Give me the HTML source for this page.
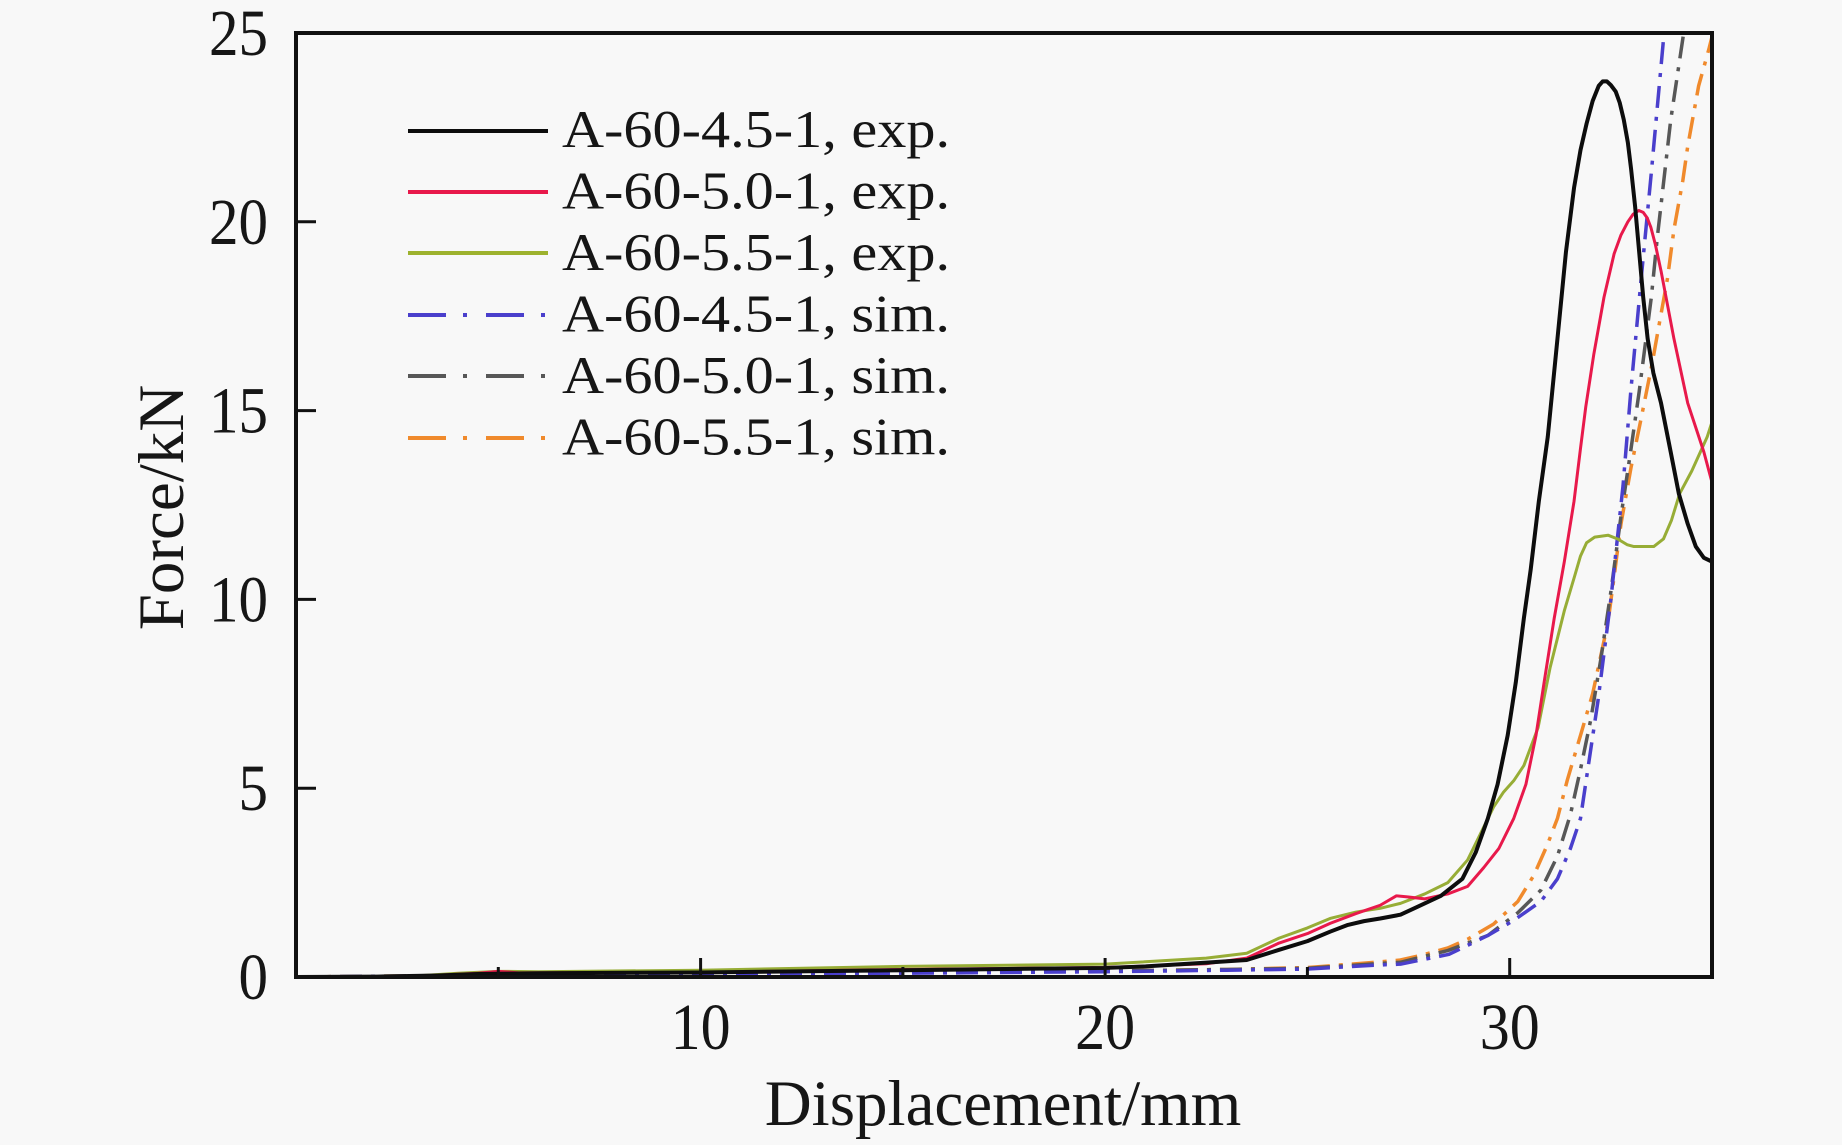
<!DOCTYPE html>
<html>
<head>
<meta charset="utf-8">
<style>
  html, body { margin: 0; padding: 0; background: #f8f8f8; }
  svg { display: block; }
  text { font-family: "Liberation Serif", "DejaVu Serif", serif; fill: #161616; }
</style>
</head>
<body>
<svg width="1842" height="1145" viewBox="0 0 1842 1145" xmlns="http://www.w3.org/2000/svg">
  <rect x="0" y="0" width="1842" height="1145" fill="#f8f8f8"/>
  <defs>
    <clipPath id="plotclip">
      <rect x="296" y="33" width="1416" height="944"/>
    </clipPath>
  </defs>

  <!-- curves -->
  <g clip-path="url(#plotclip)">
    <g transform="translate(296,977) scale(40.457,-37.76)" fill="none" stroke-linejoin="round" stroke-linecap="round">
      <!-- sim: orange 5.5 -->
      <path vector-effect="non-scaling-stroke" stroke="#f08a2c" stroke-width="3.5" stroke-dasharray="22 9 4 9" stroke-linecap="butt"
        d="M0,0 L5,0.05 L10,0.08 L15,0.12 L20,0.16 L23,0.2 L25,0.25 L26.8,0.4 L27.3,0.45 L27.8,0.57 L28.47,0.77 L28.96,1.0 L29.6,1.4 L30.2,2.0 L30.6,2.7 L30.93,3.5 L31.18,4.2 L31.42,5.2 L31.75,6.4 L32.05,7.5 L32.25,8.5 L32.43,9.4 L32.58,10.6 L32.75,12.0 L33.0,13.5 L33.25,14.8 L33.53,16.3 L33.68,17.2 L33.9,18.5 L34.06,19.8 L34.28,21.1 L34.4,22.0 L34.67,23.6 L34.93,24.6 L35,24.9"/>
      <!-- sim: gray 5.0 -->
      <path vector-effect="non-scaling-stroke" stroke="#575757" stroke-width="3.5" stroke-dasharray="22 9 4 9" stroke-linecap="butt"
        d="M0,0 L5,0.05 L10,0.08 L15,0.12 L20,0.16 L23,0.2 L25,0.23 L26.8,0.36 L27.3,0.39 L28.47,0.7 L29.46,1.1 L30.2,1.7 L30.77,2.3 L31.18,3.2 L31.5,4.3 L31.75,5.5 L32.0,6.8 L32.25,8.4 L32.5,10.2 L32.75,12.2 L33.0,14.0 L33.2,15.5 L33.5,18.0 L33.65,19.6 L33.98,22.7 L34.3,25.0 L34.35,25.5"/>
      <!-- sim: blue 4.5 -->
      <path vector-effect="non-scaling-stroke" stroke="#4a3fcc" stroke-width="3.5" stroke-dasharray="22 9 4 9" stroke-linecap="butt"
        d="M0,0 L5,0.04 L10,0.07 L15,0.1 L20,0.14 L23,0.18 L25,0.21 L26.8,0.32 L27.3,0.34 L28.5,0.6 L29.46,1.1 L30.1,1.5 L30.77,2.0 L31.18,2.6 L31.5,3.4 L31.75,4.2 L31.93,5.5 L32.18,7.3 L32.5,10.0 L32.8,13.0 L33.0,15.6 L33.25,18.5 L33.5,21.3 L33.79,24.7 L33.85,25.5"/>
      <!-- exp: green 5.5 -->
      <path vector-effect="non-scaling-stroke" stroke="#97ad36" stroke-width="3"
        d="M0,0 L2,0.01 L3,0.03 L4,0.1 L5,0.15 L6,0.14 L10,0.18 L15,0.28 L20,0.34 L22.5,0.5 L23.5,0.63 L24.3,1.03 L25,1.3 L25.56,1.55 L26.2,1.72 L26.8,1.82 L27.3,1.95 L27.9,2.2 L28.47,2.5 L28.96,3.1 L29.28,3.8 L29.6,4.5 L29.85,4.9 L30.1,5.2 L30.35,5.6 L30.7,6.6 L31.0,8.2 L31.35,9.7 L31.6,10.6 L31.75,11.15 L31.9,11.5 L32.1,11.65 L32.43,11.7 L32.67,11.6 L32.9,11.45 L33.07,11.4 L33.56,11.4 L33.8,11.6 L34.0,12.1 L34.2,12.8 L34.5,13.4 L34.88,14.3 L35,14.7"/>
      <!-- exp: red 5.0 -->
      <path vector-effect="non-scaling-stroke" stroke="#e8194b" stroke-width="3"
        d="M0,0 L2,0.01 L3,0.02 L4.5,0.1 L5,0.15 L5.5,0.11 L10,0.12 L15,0.2 L20,0.25 L22.5,0.35 L23.5,0.5 L24.3,0.9 L25,1.15 L25.56,1.42 L26.2,1.68 L26.8,1.9 L27.2,2.15 L27.5,2.12 L27.9,2.07 L28.47,2.2 L28.96,2.4 L29.36,2.9 L29.73,3.4 L30.1,4.2 L30.4,5.1 L30.65,6.4 L30.85,7.8 L31.1,9.5 L31.35,11.0 L31.59,12.6 L31.75,14.0 L31.88,15.1 L32.08,16.5 L32.33,18.0 L32.58,19.15 L32.75,19.65 L32.92,20.0 L33.05,20.2 L33.19,20.3 L33.3,20.25 L33.4,20.1 L33.49,19.85 L33.6,19.4 L33.74,18.7 L33.9,17.8 L34.06,16.9 L34.4,15.2 L34.8,13.9 L35,13.1"/>
      <!-- exp: black 4.5 -->
      <path vector-effect="non-scaling-stroke" stroke="#0d0d0d" stroke-width="4"
        d="M0,0 L2,0.01 L3.5,0.04 L4.5,0.08 L6,0.1 L10,0.12 L15,0.18 L20,0.24 L21,0.28 L22.5,0.38 L23.5,0.45 L24.3,0.72 L25,0.95 L25.56,1.2 L26,1.38 L26.4,1.48 L26.8,1.55 L27.3,1.65 L27.7,1.85 L28.3,2.15 L28.83,2.6 L29.16,3.3 L29.46,4.2 L29.7,5.1 L29.95,6.4 L30.15,7.8 L30.35,9.5 L30.52,10.8 L30.72,12.6 L30.94,14.3 L31.18,16.9 L31.39,19.2 L31.59,20.9 L31.75,21.9 L31.9,22.6 L32.05,23.2 L32.2,23.6 L32.3,23.72 L32.4,23.72 L32.5,23.62 L32.62,23.45 L32.72,23.15 L32.82,22.7 L32.92,22.1 L33.0,21.4 L33.1,20.4 L33.2,19.2 L33.3,18.0 L33.41,16.9 L33.55,16.0 L33.74,15.2 L33.98,13.9 L34.18,12.8 L34.4,12.0 L34.6,11.4 L34.8,11.1 L35,11.0"/>
    </g>
  </g>

  <!-- axis frame -->
  <rect x="296" y="33" width="1416" height="944" fill="none" stroke="#111" stroke-width="4"/>

  <!-- y ticks -->
  <g stroke="#111" stroke-width="3">
    <line x1="296" y1="788.2" x2="316" y2="788.2"/>
    <line x1="296" y1="599.4" x2="316" y2="599.4"/>
    <line x1="296" y1="410.6" x2="316" y2="410.6"/>
    <line x1="296" y1="221.8" x2="316" y2="221.8"/>
  </g>
  <!-- x ticks -->
  <g stroke="#111" stroke-width="3">
    <line x1="700.6" y1="977" x2="700.6" y2="958"/>
    <line x1="1105.1" y1="977" x2="1105.1" y2="958"/>
    <line x1="1509.7" y1="977" x2="1509.7" y2="958"/>
    <line x1="498.3" y1="977" x2="498.3" y2="967"/>
    <line x1="902.9" y1="977" x2="902.9" y2="967"/>
    <line x1="1307.4" y1="977" x2="1307.4" y2="967"/>
  </g>

  <!-- y tick labels -->
  <g font-size="66" text-anchor="end">
    <text x="268" y="55" textLength="59" lengthAdjust="spacingAndGlyphs">25</text>
    <text x="268" y="244" textLength="59" lengthAdjust="spacingAndGlyphs">20</text>
    <text x="268" y="432.6" textLength="59" lengthAdjust="spacingAndGlyphs">15</text>
    <text x="268" y="621.4" textLength="59" lengthAdjust="spacingAndGlyphs">10</text>
    <text x="268" y="810.2" textLength="29.5" lengthAdjust="spacingAndGlyphs">5</text>
    <text x="268" y="999" textLength="29.5" lengthAdjust="spacingAndGlyphs">0</text>
  </g>

  <!-- x tick labels -->
  <g font-size="66" text-anchor="middle">
    <text x="700.6" y="1049" textLength="60" lengthAdjust="spacingAndGlyphs">10</text>
    <text x="1105.1" y="1049" textLength="60" lengthAdjust="spacingAndGlyphs">20</text>
    <text x="1509.7" y="1049" textLength="60" lengthAdjust="spacingAndGlyphs">30</text>
  </g>

  <!-- axis titles -->
  <text x="1003" y="1125" font-size="65" text-anchor="middle">Displacement/mm</text>
  <text transform="translate(183,507.5) rotate(-90)" x="0" y="0" font-size="65" text-anchor="middle">Force/kN</text>

  <!-- legend lines -->
  <g fill="none">
    <line x1="408" y1="131" x2="548" y2="131" stroke="#0d0d0d" stroke-width="4"/>
    <line x1="408" y1="192" x2="548" y2="192" stroke="#e8194b" stroke-width="4"/>
    <line x1="408" y1="253" x2="548" y2="253" stroke="#9db22e" stroke-width="4"/>
    <line x1="408" y1="315" x2="548" y2="315" stroke="#4a3fcc" stroke-width="4" stroke-dasharray="38 17 4 19"/>
    <line x1="408" y1="376" x2="548" y2="376" stroke="#575757" stroke-width="4" stroke-dasharray="38 17 4 19"/>
    <line x1="408" y1="438" x2="548" y2="438" stroke="#f08a2c" stroke-width="4" stroke-dasharray="38 17 4 19"/>
  </g>

  <!-- legend text -->
  <g font-size="53">
    <text x="562" y="147" textLength="388" lengthAdjust="spacingAndGlyphs">A-60-4.5-1, exp.</text>
    <text x="562" y="208.5" textLength="388" lengthAdjust="spacingAndGlyphs">A-60-5.0-1, exp.</text>
    <text x="562" y="270" textLength="388" lengthAdjust="spacingAndGlyphs">A-60-5.5-1, exp.</text>
    <text x="562" y="331.5" textLength="388" lengthAdjust="spacingAndGlyphs">A-60-4.5-1, sim.</text>
    <text x="562" y="393" textLength="388" lengthAdjust="spacingAndGlyphs">A-60-5.0-1, sim.</text>
    <text x="562" y="454.5" textLength="388" lengthAdjust="spacingAndGlyphs">A-60-5.5-1, sim.</text>
  </g>
</svg>
</body>
</html>
